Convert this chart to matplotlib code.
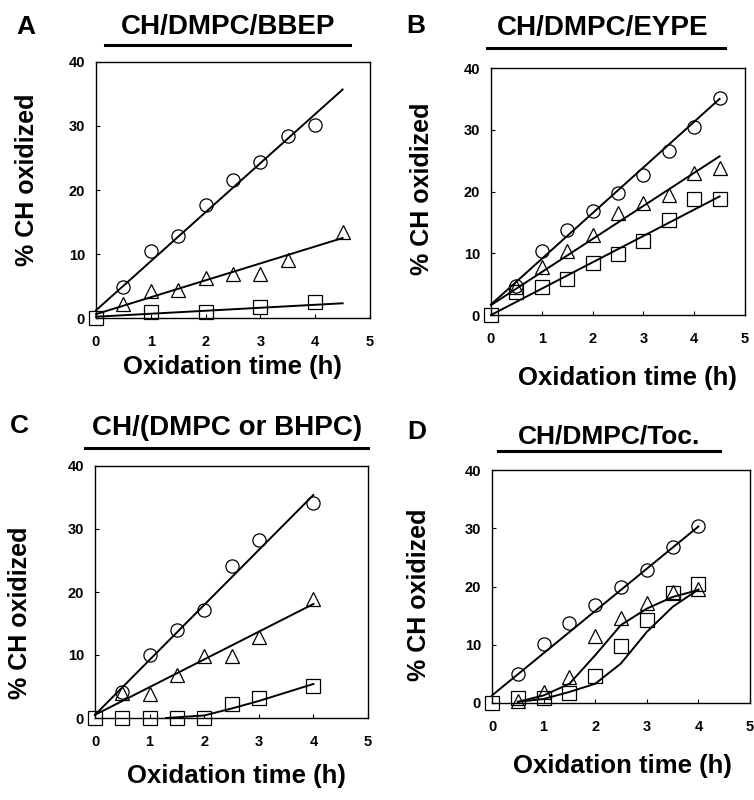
import matplotlib
matplotlib.use("Agg")
import matplotlib.pyplot as plt
from matplotlib.lines import Line2D

plt.rcParams['font.family'] = ['Liberation Sans', 'DejaVu Sans']
plt.rcParams['font.weight'] = 'bold'

W, H = 754, 800

# ---- data ----
# panel A: CH/DMPC/BBEP
a_circ_t = [0.5, 1, 1.5, 2, 2.5, 3, 3.5, 4]
a_circ_y = [4.9, 10.4, 12.8, 17.6, 21.5, 24.4, 28.4, 30.1]
a_tri_t = [0.5, 1, 1.5, 2, 2.5, 3, 3.5, 4.5]
a_tri_y = [2.2, 4.2, 4.3, 6.3, 6.9, 6.9, 9.0, 13.4]
a_sq_t = [0, 1, 2, 3, 4]
a_sq_y = [0, 0.9, 0.9, 1.7, 2.5]
a_fit_circ = ([0, 4.5], [1.2, 35.7])
a_fit_tri = ([0, 4.5], [0.6, 12.5])
a_fit_sq = ([0, 4.5], [0.2, 2.3])

# panel B: CH/DMPC/EYPE
b_circ_t = [0.5, 1, 1.5, 2, 2.5, 3, 3.5, 4, 4.5]
b_circ_y = [4.7, 10.3, 13.8, 16.8, 19.7, 22.7, 26.6, 30.4, 35.1]
b_tri_t = [0.5, 1, 1.5, 2, 2.5, 3, 3.5, 4, 4.5]
b_tri_y = [4.5, 7.8, 10.3, 13.0, 16.5, 18.1, 19.4, 23.0, 23.8]
b_sq_t = [0, 0.5, 1, 1.5, 2, 2.5, 3, 3.5, 4, 4.5]
b_sq_y = [0, 3.7, 4.5, 5.9, 8.5, 9.9, 12.0, 15.4, 18.8, 18.8]
b_fit_circ = ([0, 4.5], [1.7, 35.0])
b_fit_tri = ([0, 4.5], [1.6, 25.7])
b_fit_sq = ([0, 4.5], [0.0, 19.2])

# panel C: CH/(DMPC or BHPC)
c_circ_t = [0.5, 1, 1.5, 2, 2.5, 3, 4]
c_circ_y = [4.2, 10.0, 14.0, 17.1, 24.2, 28.2, 34.1]
c_tri_t = [0.5, 1, 1.5, 2, 2.5, 3, 4]
c_tri_y = [4.0, 3.8, 6.8, 9.8, 9.8, 12.9, 18.9]
c_sq_t = [0, 0.5, 1, 1.5, 2, 2.5, 3, 4]
c_sq_y = [0, 0, 0, 0, 0, 2.2, 3.1, 5.1]
c_fit_circ = ([0, 4], [0.5, 35.4])
c_fit_tri = ([0, 4], [0.5, 18.1])
c_fit_sq = ([1.3, 2.0, 2.5, 3.0, 4.0], [0.0, 0.4, 1.5, 2.7, 5.4])

# panel D: CH/DMPC/Toc.
d_circ_t = [0.5, 1, 1.5, 2, 2.5, 3, 3.5, 4]
d_circ_y = [4.9, 10.2, 13.8, 16.8, 19.9, 22.9, 26.7, 30.4]
d_tri_t = [0.5, 1, 1.5, 2, 2.5, 3, 3.5, 4]
d_tri_y = [0.4, 1.9, 4.5, 11.5, 14.6, 17.2, 19.1, 19.6]
d_sq_t = [0, 0.5, 1, 1.5, 2, 2.5, 3, 3.5, 4]
d_sq_y = [0, 0.9, 0.9, 1.7, 4.6, 9.8, 14.3, 18.9, 20.5]
d_fit_circ = ([0, 4], [1.3, 30.3])
d_fit_tri = ([0.5, 1, 1.5, 2, 2.5, 3, 3.5, 4], [0.2, 1.3, 3.3, 8.2, 13.4, 16.2, 18.2, 19.4])
d_fit_sq = ([0.5, 1, 1.5, 2, 2.5, 3, 3.5, 4], [0.2, 0.7, 1.9, 3.3, 6.8, 12.2, 16.5, 19.5])

panels = [
    dict(letter='A', title='CH/DMPC/BBEP', box=(96, 370, 62, 318),
         letter_xy=(26, 27), title_xy=(228, 27), uline=(105, 350, 45), title_fs=20,
         ylab_xy=(27, 180), xlab_xy=(232, 367),
         series=[(a_circ_t, a_circ_y, 'o'), (a_tri_t, a_tri_y, '^'), (a_sq_t, a_sq_y, 's')],
         fits=[a_fit_circ, a_fit_tri, a_fit_sq]),
    dict(letter='B', title='CH/DMPC/EYPE', box=(491, 745, 68, 315),
         letter_xy=(416, 26), title_xy=(603, 28), uline=(487, 725, 48), title_fs=20,
         ylab_xy=(422, 189), xlab_xy=(627, 378),
         series=[(b_circ_t, b_circ_y, 'o'), (b_tri_t, b_tri_y, '^'), (b_sq_t, b_sq_y, 's')],
         fits=[b_fit_circ, b_fit_tri, b_fit_sq]),
    dict(letter='C', title='CH/(DMPC or BHPC)', box=(95, 368, 466, 718),
         letter_xy=(19, 426), title_xy=(227, 428), uline=(85, 368, 448), title_fs=20,
         ylab_xy=(20, 613), xlab_xy=(236, 776),
         series=[(c_circ_t, c_circ_y, 'o'), (c_tri_t, c_tri_y, '^'), (c_sq_t, c_sq_y, 's')],
         fits=[c_fit_circ, c_fit_tri, c_fit_sq]),
    dict(letter='D', title='CH/DMPC/Toc.', box=(492, 750, 470, 703),
         letter_xy=(417, 432), title_xy=(609, 436), uline=(498, 720, 451), title_fs=19,
         ylab_xy=(419, 595), xlab_xy=(622, 766),
         series=[(d_circ_t, d_circ_y, 'o'), (d_tri_t, d_tri_y, '^'), (d_sq_t, d_sq_y, 's')],
         fits=[d_fit_circ, d_fit_tri, d_fit_sq]),
]

fig = plt.figure(figsize=(W / 100, H / 100), dpi=100)


def fx(x):
    return x / W


def fy(y):
    return 1 - y / H


for p in panels:
    x0, x1, y0, y1 = p['box']
    ax = fig.add_axes([fx(x0), fy(y1), (x1 - x0) / W, (y1 - y0) / H])
    ax.set_xlim(0, 5)
    ax.set_ylim(0, 40)
    ax.set_xticks(range(0, 6))
    ax.set_yticks(range(0, 41, 10))
    ax.tick_params(axis='both', direction='in', length=3, width=0.8, labelsize=10.5)
    ax.tick_params(axis='x', pad=12)
    ax.tick_params(axis='y', pad=8)
    for lbl in ax.get_xticklabels() + ax.get_yticklabels():
        lbl.set_fontweight('bold')
    for s in ax.spines.values():
        s.set_linewidth(1.0)

    for fx_, fy_ in p['fits']:
        ax.plot(fx_, fy_, color='black', lw=1.4, clip_on=False, zorder=2)
    for t, y, m in p['series']:
        ms = 10.5 if m == '^' else 9.5
        ax.plot(t, y, linestyle='none', marker=m, ms=ms, mfc='none', mec='black',
                mew=0.9, clip_on=False, zorder=3)

    fig.text(fx(p['letter_xy'][0]), fy(p['letter_xy'][1]), p['letter'], fontsize=19,
             fontweight='bold', ha='center', va='center')
    fig.text(fx(p['title_xy'][0]), fy(p['title_xy'][1]), p['title'], fontsize=p['title_fs'],
             fontweight='bold', ha='center', va='center')
    ux0, ux1, uy = p['uline']
    fig.add_artist(Line2D([fx(ux0), fx(ux1)], [fy(uy), fy(uy)], color='black', lw=2.2,
                          transform=fig.transFigure))
    fig.text(fx(p['ylab_xy'][0]), fy(p['ylab_xy'][1]), '% CH oxidized', fontsize=18,
             fontweight='bold', rotation=90, ha='center', va='center')
    fig.text(fx(p['xlab_xy'][0]), fy(p['xlab_xy'][1]), 'Oxidation time (h)', fontsize=18.5,
             fontweight='bold', ha='center', va='center')

fig.savefig('out.png', dpi=100)
